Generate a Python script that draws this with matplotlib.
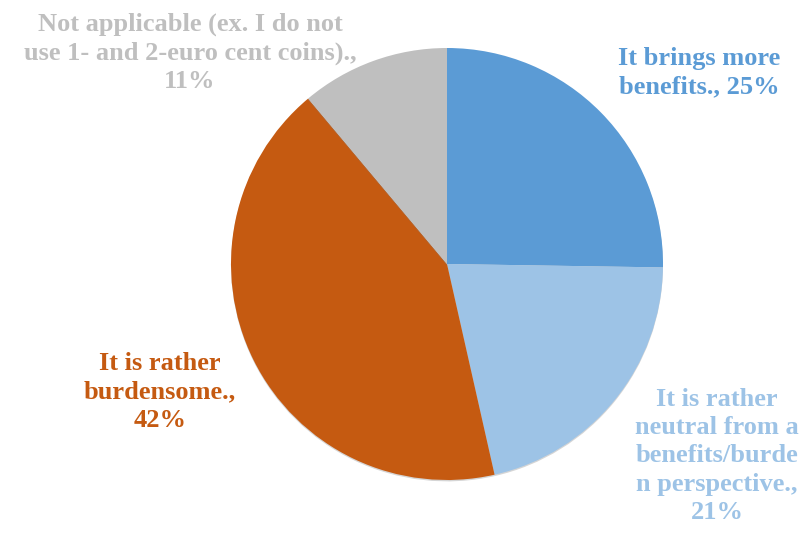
import matplotlib.pyplot as plt
import matplotlib.patheffects as pe

labels = ['It brings more\nbenefits., 25%',
          'It is rather\nneutral from a\nbenefits/burde\nn perspective.,\n21%',
          'It is rather\nburdensome.,\n42%',
          'Not applicable (ex. I do not\nuse 1- and 2-euro cent coins).,\n11%']
shares = [25, 21, 42, 11]
colors = ['#5B9BD5', '#9DC3E6', '#C55A11', '#BFBFBF']
label_pos = [(699, 73), (717, 456), (160, 392), (190, 53)]

fig = plt.figure(figsize=(8.06, 5.33), dpi=100)
ax = fig.add_axes([0, 0, 1, 1])

# pie centre and radius in pixel units (y measured from the bottom)
cx, cy, r = 447, 533 - 264, 216
wedges, _ = ax.pie(shares, colors=colors, startangle=90, counterclock=False,
                   center=(cx, cy), radius=r, frame=True,
                   wedgeprops=dict(linewidth=0))
for w in wedges:
    w.set_path_effects([pe.SimplePatchShadow(offset=(0, -1), shadow_rgbFace='#888888', alpha=0.35),
                        pe.Normal()])
ax.set_xlim(0, 806)
ax.set_ylim(0, 533)
ax.set_aspect('equal')
ax.axis('off')

for text, (x, y), c in zip(labels, label_pos, colors):
    ax.text(x, 533 - y, text, color=c, ha='center', va='center', multialignment='center',
            fontsize=19, fontweight='bold', family='Liberation Serif', linespacing=1.3)

fig.savefig('out.png', dpi=100)
